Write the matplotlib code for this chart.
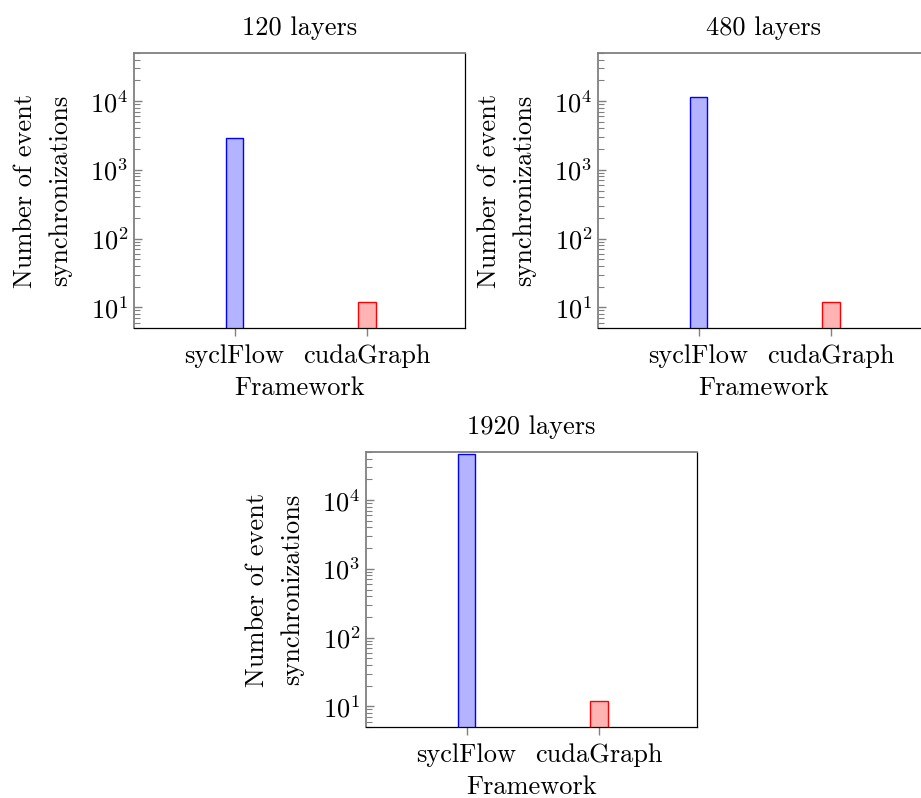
import matplotlib
matplotlib.use("Agg")
import matplotlib.pyplot as plt
import numpy as np

plt.rcParams["font.family"] = ["cmr10", "DejaVu Serif"]
plt.rcParams["mathtext.fontset"] = "cm"
plt.rcParams["axes.formatter.use_mathtext"] = True

FRAMEWORKS = ["syclFlow", "cudaGraph"]
LAYERS = ["120 layers", "480 layers", "1920 layers"]
SYNCS = {
    "120 layers": [2880, 12],
    "480 layers": [11520, 12],
    "1920 layers": [46080, 12],
}

EDGE = ["blue", "red"]
FILL = ["#b3b3ff", "#ffb3b3"]
FS = 19

W, H = 921, 798
# axes boxes in pixels: left, top, width, height
BOXES = [(134, 53, 331, 275), (598, 53, 331, 275), (366, 452, 331, 275)]

fig = plt.figure(figsize=(W / 100, H / 100), dpi=100)

for name, (l, t, w, h) in zip(LAYERS, BOXES):
    ax = fig.add_axes([l / W, 1 - (t + h) / H, w / W, h / H])
    x = np.arange(len(FRAMEWORKS))
    for i in x:
        ax.bar(i, SYNCS[name][i], width=0.13, color=FILL[i], edgecolor=EDGE[i],
               linewidth=1.0, zorder=2)
    ax.set_yscale("log")
    ax.set_ylim(5, 5e4)
    ax.set_xlim(-0.76, 1.74)
    ax.set_xticks(x)
    ax.set_xticklabels(FRAMEWORKS, fontsize=FS)
    ax.tick_params(axis="x", direction="out", length=6, width=1, color="gray", pad=6)
    ax.tick_params(axis="y", which="major", direction="in", length=6, width=1,
                   color="gray", labelsize=FS, pad=4)
    ax.tick_params(axis="y", which="minor", direction="in", length=4, width=0.8,
                   color="gray")
    for s in ["top", "left"]:
        ax.spines[s].set_color("gray")
        ax.spines[s].set_linewidth(1.3)
    for s in ["bottom", "right"]:
        ax.spines[s].set_color("black")
        ax.spines[s].set_linewidth(0.9)
    ax.set_title(name, fontsize=FS, pad=13)
    ax.set_xlabel("Framework", fontsize=FS, labelpad=6)
    ax.set_ylabel("Number of event\nsynchronizations", fontsize=FS, linespacing=1.6,
                  labelpad=13)

fig.savefig("out.png", dpi=100)
